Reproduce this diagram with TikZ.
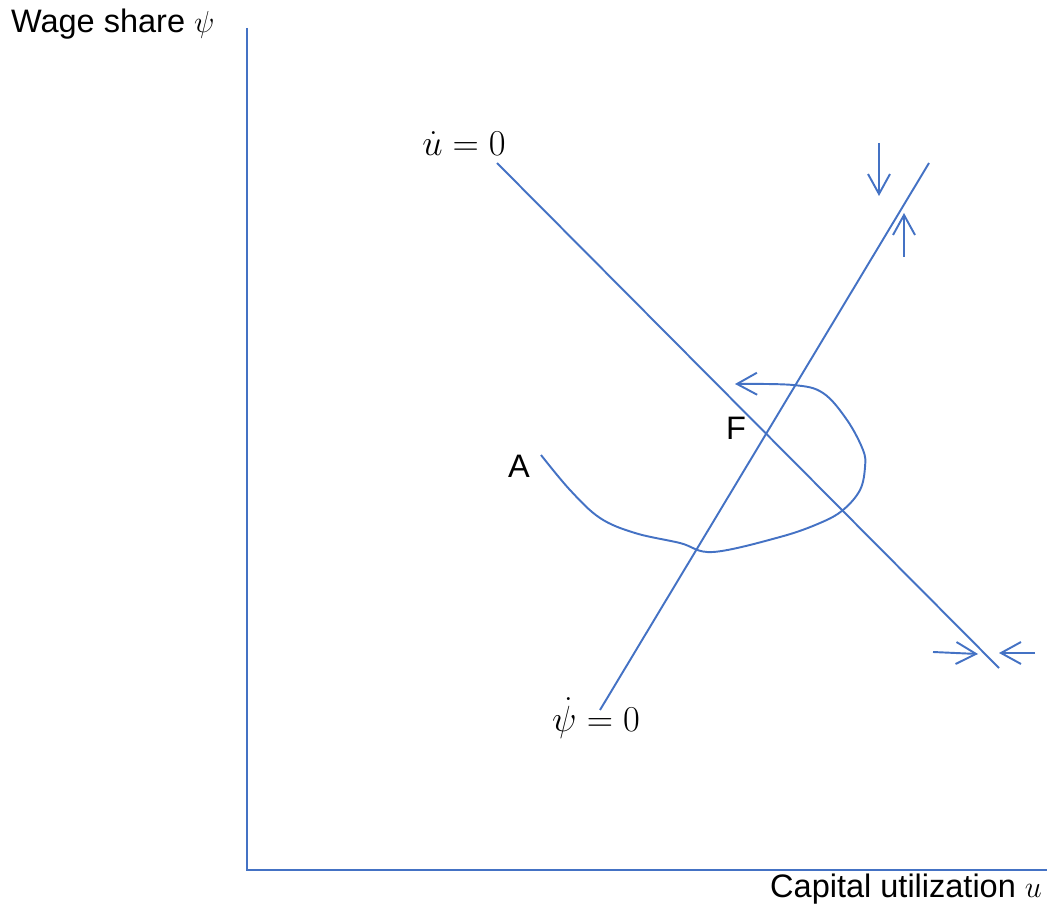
\documentclass[tikz,border=0pt]{standalone}
\usepackage{fontspec}
\setmainfont{Liberation Sans}
\usetikzlibrary{arrows.meta}
\definecolor{lineblue}{RGB}{68,114,196}
\begin{document}
\begin{tikzpicture}[x=0.02cm, y=-0.02cm,
    curve/.style={draw=lineblue, line width=1.1pt},
    flow/.style={curve, -{Straight Barb[length=0.4cm, width=0.44cm]}},
    lbl/.style={font=\fontsize{18.5}{21}\selectfont, inner sep=1pt},
    mlbl/.style={font=\fontsize{20.5}{23}\selectfont, inner sep=1pt}]
    \useasboundingbox (0,0) rectangle (1047,911);

    % Axes
    \coordinate (origin) at (247,870);
    \coordinate (ytop) at (247,28);
    \coordinate (xend) at (1047,870);
    \draw[curve] (ytop) -- (origin) -- (xend);
    \node[lbl, anchor=west] (ylab) at (9,24) {Wage share $\psi$};
    \node[lbl, anchor=east] (xlab) at (1044,889) {Capital utilization $u$};

    % Nullclines
    \coordinate (ua) at (497,163);
    \coordinate (ub) at (999,668);
    \coordinate (pa) at (600,710);
    \coordinate (pb) at (929,163);
    \draw[curve] (ua) -- (ub);
    \draw[curve] (pa) -- (pb);
    \node[mlbl] (ulab) at (464,144) {$\dot{u} = 0$};
    \node[mlbl] (plab) at (596,718) {$\dot{\psi} = 0$};

    % Direction arrows
    \coordinate (dn1) at (879,143);
    \coordinate (dn2) at (879,196);
    \coordinate (up1) at (904,257);
    \coordinate (up2) at (904,213);
    \coordinate (rt1) at (933,652);
    \coordinate (rt2) at (978,654);
    \coordinate (lt1) at (1035,653);
    \coordinate (lt2) at (999,653);
    \draw[flow] (dn1) -- (dn2);
    \draw[flow] (up1) -- (up2);
    \draw[flow] (rt1) -- (rt2);
    \draw[flow] (lt1) -- (lt2);

    % Path from A around F
    \draw[flow] plot[smooth, tension=0.6] coordinates {(541,455) (570,490)
        (600,518) (635,533) (680,543) (713,552) (780,537) (820,523)
        (843,510) (860,490) (865,467) (863,450) (847,420) (823,393)
        (793,385) (735,384)};
    \node[lbl] (A) at (519,466) {A};
    \node[lbl] (F) at (736,428) {F};
\end{tikzpicture}
\end{document}
